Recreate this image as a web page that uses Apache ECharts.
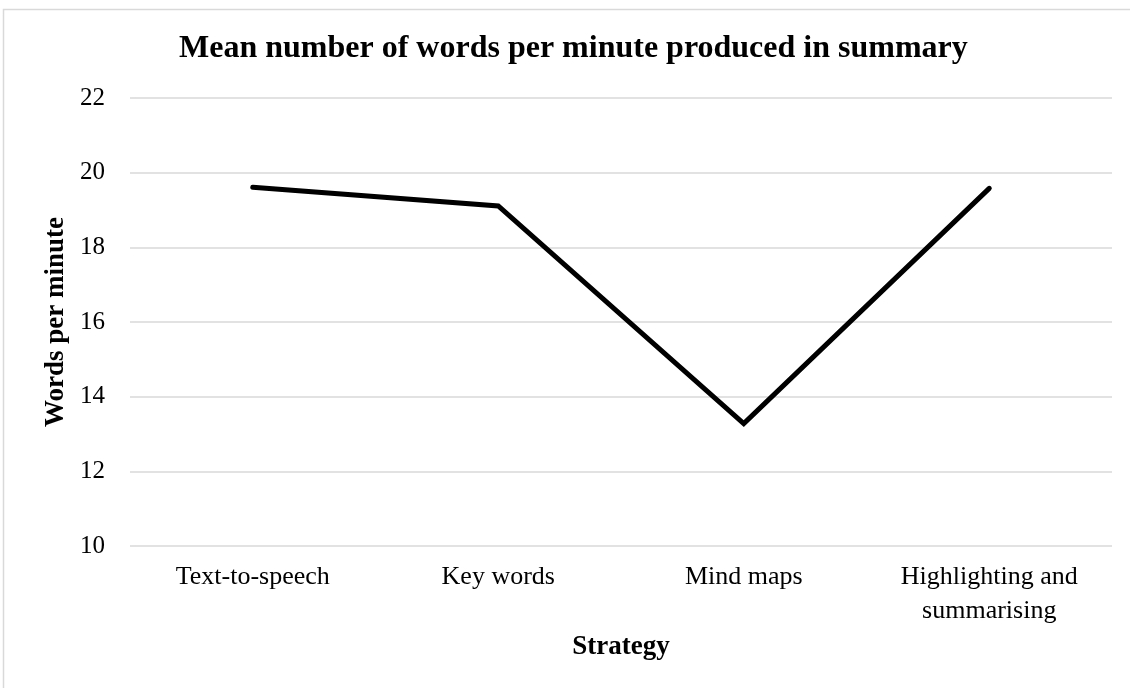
<!DOCTYPE html>
<html>
<head>
<meta charset="utf-8">
<script src="https://cdn.jsdelivr.net/npm/echarts@6/dist/echarts.min.js"></script>
<style>
html,body{margin:0;padding:0;background:#fff;}
#chart{width:1130px;height:688px;}
</style>
</head>
<body>
<div id="chart"></div>
<script>
const titleText = 'Mean number of words per minute produced in summary';
const xAxisName = 'Strategy';
const yAxisName = 'Words per minute';
const categories = ['Text-to-speech', 'Key words', 'Mind maps', 'Highlighting and\nsummarising'];
const wordsPerMinute = [19.61, 19.11, 13.28, 19.58];
const yMin = 10, yMax = 22, yStep = 2;

const FONT = '"Liberation Serif", "Times New Roman", serif';
const chart = echarts.init(document.getElementById('chart'), null, {renderer: 'canvas'});
chart.setOption({
  backgroundColor: '#ffffff',
  animation: false,
  graphic: [{
    type: 'rect', silent: true,
    shape: {x: 3.5, y: 9.5, width: 1140, height: 700},
    style: {fill: 'none', stroke: '#d9d9d9', lineWidth: 1.5}
  }],
  title: {
    text: titleText, left: 174, top: 28,
    textStyle: {fontFamily: FONT, fontWeight: 'bold', fontSize: 32, color: '#000'}
  },
  grid: {left: 130, right: 18, top: 98, bottom: 142, containLabel: false},
  xAxis: {
    type: 'category', data: categories, boundaryGap: true,
    axisLine: {show: false}, axisTick: {show: false},
    axisLabel: {fontFamily: FONT, fontSize: 26, color: '#000', margin: 14, lineHeight: 34, interval: 0},
    name: xAxisName, nameLocation: 'middle', nameGap: 88,
    nameTextStyle: {fontFamily: FONT, fontWeight: 'bold', fontSize: 27, color: '#000'}
  },
  yAxis: {
    type: 'value', min: yMin, max: yMax, interval: yStep,
    axisLine: {show: false}, axisTick: {show: false},
    splitLine: {show: true, lineStyle: {color: '#d9d9d9', width: 1.5}},
    axisLabel: {fontFamily: FONT, fontSize: 25, color: '#000', margin: 25},
    name: yAxisName, nameLocation: 'middle', nameGap: 57, nameRotate: 90,
    nameTextStyle: {fontFamily: FONT, fontWeight: 'bold', fontSize: 27, color: '#000'}
  },
  series: [{
    type: 'line', data: wordsPerMinute, showSymbol: false, symbol: 'none',
    lineStyle: {color: '#000', width: 5, cap: 'round', join: 'miter'},
    itemStyle: {color: '#000'}
  }]
});
</script>
</body>
</html>
